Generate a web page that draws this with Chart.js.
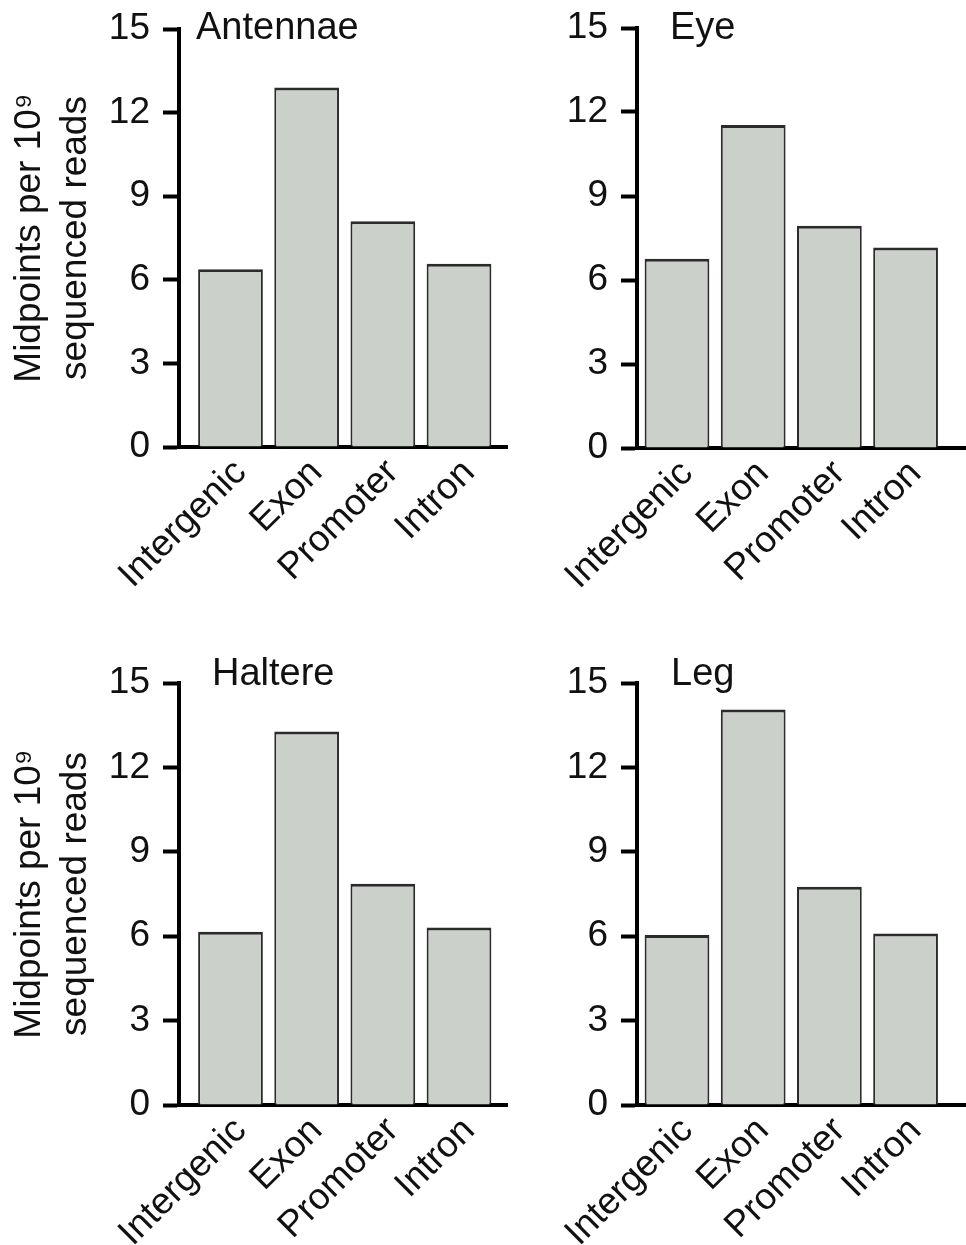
<!DOCTYPE html>
<html>
<head>
<meta charset="utf-8">
<script src="https://cdn.jsdelivr.net/npm/chart.js@4.4.1/dist/chart.umd.min.js"></script>
<style>
  html, body { margin: 0; padding: 0; background: #fff; overflow: hidden; }
  body { width: 966px; height: 1245px; position: relative; }
  canvas { position: absolute; }
</style>
</head>
<body>
<canvas id="p0"></canvas>
<canvas id="p1"></canvas>
<canvas id="p2"></canvas>
<canvas id="p3"></canvas>
<script>
// Genomic region categories on the x axis
const regions = ['Intergenic', 'Exon', 'Promoter', 'Intron'];
// One panel per tissue
const tissues = ['Antennae', 'Eye', 'Haltere', 'Leg'];
// Midpoints per 10^9 sequenced reads, per region
const antennae = [6.38, 12.9, 8.1, 6.58];
const eye = [6.76, 11.54, 7.94, 7.16];
const haltere = [6.16, 13.28, 7.86, 6.31];
const leg = [6.04, 14.06, 7.76, 6.1];
// Value axis ticks
const yTicks = [0, 3, 6, 9, 12, 15];
const yTitle = ['Midpoints per 10\u2079', 'sequenced reads'];

const seriesByTissue = [antennae, eye, haltere, leg];

// Placement of each panel on the page
const layout = [
  { left: 0,   top: 0,   width: 520, height: 620, padTop: 29, padRight: 13, axisW: 179, axisH: 173, xMin: -0.676, xMax: 3.63, tdx: 17, tdy: 10, yTitle: true },
  { left: 483, top: 0,   width: 483, height: 620, padTop: 28, padRight: 1,  axisW: 154, axisH: 172, xMin: -0.525, xMax: 3.78, tdx: 33, tdy: 11, yTitle: false },
  { left: 0,   top: 628, width: 520, height: 617, padTop: 55, padRight: 13, axisW: 179, axisH: 140, xMin: -0.676, xMax: 3.63, tdx: 33, tdy: 2,  yTitle: true },
  { left: 483, top: 628, width: 483, height: 617, padTop: 55, padRight: 1,  axisW: 154, axisH: 140, xMin: -0.525, xMax: 3.78, tdx: 34, tdy: 2,  yTitle: false }
];

const FONT = "'Liberation Sans', Arial, Helvetica, sans-serif";
Chart.defaults.font.family = FONT;
Chart.defaults.color = '#111';

// Panel name written inside the top-left corner of the plot area
const panelTitle = {
  id: 'panelTitle',
  afterDraw(chart, args, opts) {
    const { ctx, chartArea } = chart;
    ctx.save();
    ctx.font = `${opts.size}px ${FONT}`;
    ctx.fillStyle = '#111';
    ctx.textAlign = 'left';
    ctx.textBaseline = 'alphabetic';
    ctx.fillText(opts.text, chartArea.left + opts.dx, chartArea.top + opts.dy);
    ctx.restore();
  }
};

tissues.forEach((name, k) => {
  const L = layout[k];
  const cv = document.getElementById('p' + k);
  cv.width = L.width;
  cv.height = L.height;
  cv.style.left = L.left + 'px';
  cv.style.top = L.top + 'px';
  cv.style.width = L.width + 'px';
  cv.style.height = L.height + 'px';

  new Chart(cv, {
    type: 'bar',
    data: {
      datasets: [{
        data: seriesByTissue[k].map((v, i) => ({ x: i, y: v })),
        backgroundColor: '#ccd0ca',
        borderColor: '#2b2b2b',
        borderWidth: { top: 3, left: 2, right: 2, bottom: 0 },
        borderSkipped: 'start',
        categoryPercentage: 1,
        barPercentage: 0.85
      }]
    },
    plugins: [panelTitle],
    options: {
      responsive: false,
      animation: false,
      devicePixelRatio: 1,
      layout: { padding: { top: L.padTop, right: L.padRight, left: 0, bottom: 0 } },
      plugins: {
        legend: { display: false },
        tooltip: { enabled: false },
        panelTitle: { text: name, dx: L.tdx, dy: L.tdy, size: 38 }
      },
      scales: {
        x: {
          type: 'linear',
          min: L.xMin,
          max: L.xMax,
          offset: false,
          grid: { display: false, drawTicks: false, offset: false },
          border: { display: true, color: '#000', width: 4 },
          afterBuildTicks: (s) => { s.ticks = regions.map((_, i) => ({ value: i })); },
          afterFit: (s) => { s.height = L.axisH; s.paddingLeft = 0; s.paddingRight = 0; },
          ticks: {
            autoSkip: false,
            minRotation: 45,
            maxRotation: 45,
            padding: 4,
            labelOffset: 10,
            color: '#111',
            font: { size: 37 },
            callback: (v) => regions[Math.round(v)]
          }
        },
        y: {
          min: 0,
          max: 15,
          grid: { drawOnChartArea: false, drawTicks: true, tickLength: 16, tickWidth: 4, tickColor: '#000' },
          border: { display: true, color: '#000', width: 4 },
          afterBuildTicks: (s) => { s.ticks = yTicks.map(v => ({ value: v })); },
          afterFit: (s) => { s.width = L.axisW; s.paddingTop = 0; s.paddingBottom = 0; },
          ticks: { padding: 13, color: '#111', font: { size: 37 } },
          title: {
            display: L.yTitle,
            text: yTitle,
            color: '#111',
            font: { size: 37, lineHeight: 1.24 },
            padding: { top: 7, bottom: 0 }
          }
        }
      }
    }
  });
});
</script>
</body>
</html>
